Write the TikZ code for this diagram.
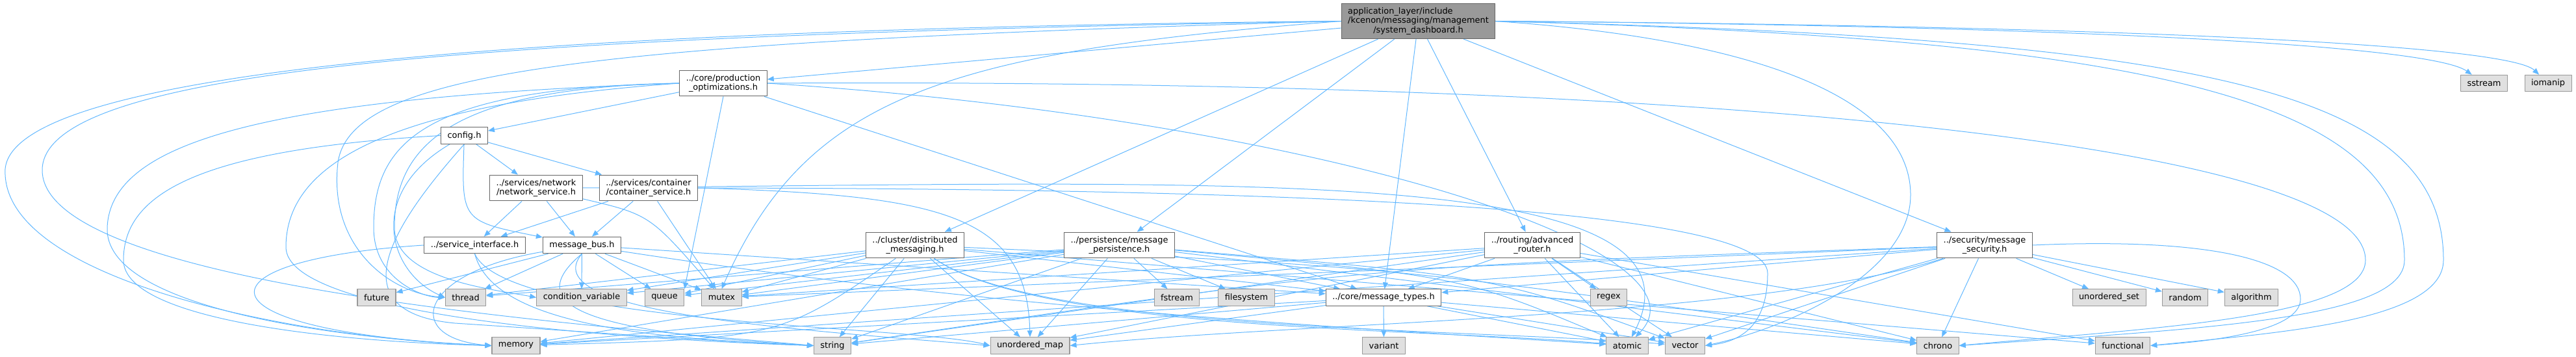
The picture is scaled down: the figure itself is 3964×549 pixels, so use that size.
\documentclass[tikz,border=0pt]{standalone}
\usepackage{fontspec}
\setmainfont{DejaVu Sans}
\usetikzlibrary{arrows.meta, backgrounds}
\definecolor{edgeblue}{HTML}{63B8FF}
\definecolor{boxgray}{HTML}{E0E0E0}
\definecolor{linegray}{HTML}{999999}
\definecolor{dkgray}{HTML}{666666}
\definecolor{midgray}{HTML}{999999}
\newlength\titlew
\begin{document}
\begin{tikzpicture}[x=0.75pt, y=-0.75pt, font=\fontsize{9.7}{10.8}\selectfont, line join=round,
	inc/.style={draw=edgeblue, line width=0.75pt, -{Triangle[length=7.5pt,width=6pt]}},
	hdr/.style={draw=dkgray, fill=white, line width=0.8pt, align=center, inner xsep=7.5pt, inner ysep=4.7pt, minimum height=19pt},
	sys/.style={hdr, draw=linegray, fill=boxgray},
	mainhdr/.style={hdr, draw=dkgray, fill=midgray}]
	\useasboundingbox (0,0) rectangle (3964,549);
	\node[mainhdr] (dashboard) at (2182.5,32.5) {\settowidth{\titlew}{/kcenon/messaging/management}\makebox[\titlew][l]{application\_layer/include}\\/kcenon/messaging/management\\/system\_dashboard.h};
	\node[hdr] (prodopt) at (1113,128) {../core/production\\\_optimizations.h};
	\node[hdr] (config) at (714.5,208.5) {config.h};
	\node[hdr] (netsvc) at (825,289) {../services/network\\/network\_service.h};
	\node[hdr] (contsvc) at (998,289) {../services/container\\/container\_service.h};
	\node[hdr] (svciface) at (730.5,377) {../service\_interface.h};
	\node[hdr] (msgbus) at (895.5,377) {message\_bus.h};
	\node[hdr] (cluster) at (1408,377) {../cluster/distributed\\\_messaging.h};
	\node[hdr] (persist) at (1722.5,377) {../persistence/message\\\_persistence.h};
	\node[hdr] (router) at (2358,377) {../routing/advanced\\\_router.h};
	\node[hdr] (security) at (3054,377) {../security/message\\\_security.h};
	\node[hdr] (msgtypes) at (2129,457.5) {../core/message\_types.h};
	\foreach \n/\x/\y/\t in {sstream/3822.5/128/sstream, iomanip/3921/128/iomanip,
		future/579.5/457.5/future, thread/716.5/457.5/thread, condvar/895/457.5/condition\_variable,
		queue/1022.5/457.5/queue, mutex/1110.5/457.5/mutex, fstream/1811/457.5/fstream,
		filesystem/1918/457.5/filesystem, regex/2475.5/457.5/regex, uset/3245.5/457.5/unordered\_set,
		random/3362.5/457.5/random, algorithm/3464.5/457.5/algorithm,
		memory/794/531.5/memory, string/1281/531.5/string, umap/1585/531.5/unordered\_map,
		variant/2129.5/531.5/variant, atomic/2504/531.5/atomic, vector/2593/531.5/vector,
		chrono/2982/531.5/chrono, functional/3266.5/531.5/functional}
		\node[sys] (\n) at (\x,\y) {\t};
	\begin{scope}[on background layer]
	\foreach \a/\b in {dashboard/prodopt, dashboard/cluster, dashboard/persist, dashboard/msgtypes, dashboard/router, dashboard/security,
		prodopt/config, prodopt/msgtypes, config/netsvc, config/contsvc,
		netsvc/svciface, netsvc/msgbus, contsvc/svciface, contsvc/msgbus, contsvc/mutex,
		msgbus/future, msgbus/thread, msgbus/condvar, msgbus/queue, msgbus/mutex, msgbus/msgtypes,
		cluster/msgtypes, cluster/thread, cluster/condvar, cluster/queue, cluster/mutex, cluster/string, cluster/umap, cluster/functional,
		persist/fstream, persist/filesystem, persist/msgtypes, persist/thread, persist/condvar, persist/queue, persist/mutex,
		persist/memory, persist/string, persist/umap, persist/chrono,
		router/regex, router/msgtypes, router/memory, router/string, router/umap, router/mutex, router/atomic, router/vector,
		router/functional, router/chrono,
		msgtypes/variant, msgtypes/string, msgtypes/memory, msgtypes/chrono, msgtypes/umap, msgtypes/vector, msgtypes/atomic,
		security/uset, security/random, security/algorithm, security/chrono, security/vector, security/atomic, security/msgtypes,
		security/memory, security/mutex}
		{\draw[inc] (\a) -- (\b);}
	\draw[inc] (prodopt.south) -- (queue.north east);
	\draw[inc] (netsvc) .. controls (1000,330) .. (mutex);
	\draw[inc] (config) .. controls (710,340) .. (msgbus);
	\draw[inc] (config) .. controls (560,300) and (600,420) .. (thread.west);
	\draw[inc] (config.west) .. controls (300,230) and (190,300) .. (190,400) .. controls (190,490) and (500,525) .. (memory.west);
	\draw[inc] (config.south) .. controls (600,350) and (520,480) .. (700,497) .. controls (900,510) and (1100,525) .. (string.west);
	\draw[inc] (dashboard.west) .. controls (800,45) and (20,110) .. (8,260) .. controls (0,430) and (450,520) .. (memory.west);
	\draw[inc] (dashboard.west) .. controls (700,55) and (70,110) .. (65,260) .. controls (60,440) and (900,500) .. (string.west);
	\draw[inc] (dashboard.west) .. controls (900,65) and (540,110) .. (520,250) .. controls (505,380) and (600,450) .. (thread.west);
	\draw[inc] (dashboard.west) .. controls (1450,80) and (1240,150) .. (mutex.north);
	\draw[inc] (dashboard.east) .. controls (3200,40) and (3740,70) .. (sstream);
	\draw[inc] (dashboard.east) .. controls (3300,40) and (3860,70) .. (iomanip);
	\draw[inc] (dashboard.east) .. controls (3400,60) and (3760,140) .. (3760,400) .. controls (3760,495) and (3500,512) .. (functional.east);
	\draw[inc] (dashboard.east) .. controls (3300,60) and (3700,150) .. (3700,400) .. controls (3700,490) and (3400,505) .. (chrono.east);
	\draw[inc] (dashboard.east) .. controls (2700,60) and (2940,150) .. (2940,300) .. controls (2940,420) and (2750,505) .. (vector.east);
	\draw[inc] (prodopt.west) .. controls (700,135) and (607,220) .. (607,350) .. controls (607,430) and (760,445) .. (condvar.west);
	\draw[inc] (prodopt.west) .. controls (650,135) and (575,220) .. (575,350) .. controls (575,430) and (650,457) .. (thread.west);
	\draw[inc] (prodopt.west) .. controls (400,150) and (170,220) .. (165,350) .. controls (160,470) and (500,520) .. (memory.west);
	\draw[inc] (prodopt.west) .. controls (600,160) and (440,250) .. (440,380) .. controls (440,480) and (900,520) .. (string.west);
	\draw[inc] (prodopt.east) .. controls (2000,180) and (2650,380) .. (atomic);
	\draw[inc] (prodopt.east) .. controls (2600,120) and (3640,220) .. (3640,400) .. controls (3640,490) and (3300,505) .. (chrono.east);
	\draw[inc] (netsvc.east) .. controls (1900,280) and (2650,250) .. (atomic);
	\draw[inc] (contsvc.east) .. controls (1450,300) and (1580,330) .. (umap.north);
	\draw[inc] (contsvc.east) .. controls (2000,290) and (2720,320) .. (2720,420) .. controls (2720,500) and (2680,525) .. (vector.east);
	\draw[inc] (svciface.west) .. controls (290,400) and (290,510) .. (memory.west);
	\draw[inc] (svciface.south) .. controls (760,500) and (1000,520) .. (string.west);
	\draw[inc] (svciface.south) .. controls (780,500) and (1400,500) .. (umap.west);
	\draw[inc] (msgbus) .. controls (640,420) and (620,520) .. (memory.west);
	\draw[inc] (msgbus.south) .. controls (800,470) and (900,510) .. (string.west);
	\draw[inc] (msgbus.south) .. controls (820,480) and (1200,505) .. (umap.west);
	\draw[inc] (msgbus) .. controls (1500,470) and (2000,500) .. (atomic);
	\draw[inc] (cluster) .. controls (1200,520) .. (memory);
	\draw[inc] (cluster) .. controls (1600,510) and (2200,505) .. (atomic);
	\draw[inc] (cluster) .. controls (1600,510) and (2250,505) .. (vector);
	\draw[inc] (cluster) .. controls (2150,410) .. (chrono);
	\draw[inc] (persist) .. controls (2250,425) .. (atomic);
	\draw[inc] (persist) .. controls (2300,425) .. (vector);
	\draw[inc] (security) .. controls (2100,410) .. (string);
	\draw[inc] (security) .. controls (2700,490) and (2000,495) .. (umap.east);
	\draw[inc] (security.east) .. controls (3400,365) and (3540,400) .. (3540,460) .. controls (3540,510) and (3400,525) .. (functional.east);
	\end{scope}
\end{tikzpicture}
\end{document}
